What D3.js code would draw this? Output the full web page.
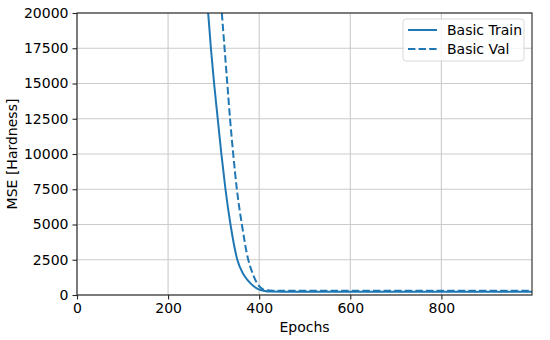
<!DOCTYPE html>
<html>
<head>
<meta charset="utf-8">
<script src="https://cdn.jsdelivr.net/npm/d3@7"></script>
<style>
  body { margin: 0; background: #fff; }
  svg { font-family: "DejaVu Sans", sans-serif; }
  .tick text { font-size: 14px; fill: #000; }
</style>
</head>
<body>
<svg class="chart"></svg>
<script>
// values (earlier epochs are off the top of the chart)
var trainEpochs = [278, 288, 294, 301, 309, 317, 326, 337, 352, 364, 376, 388, 398, 410, 424, 500, 600, 700, 800, 900, 999];
var trainMSE    = [24500, 20000, 17500, 15000, 12500, 10000, 7500, 5000, 2500, 1550, 1000, 620, 420, 300, 240, 230, 230, 230, 230, 230, 230];
var valEpochs   = [308, 318, 324, 330, 336, 343, 351, 362, 376, 386, 395, 405, 415, 430, 500, 600, 700, 800, 900, 999];
var valMSE      = [24500, 20000, 17500, 15000, 12500, 10000, 7500, 5000, 2500, 1500, 850, 480, 340, 300, 300, 300, 300, 300, 300, 300];
var xTicks = [0, 200, 400, 600, 800];
var yTicks = [0, 2500, 5000, 7500, 10000, 12500, 15000, 17500, 20000];
var seriesNames = ["Basic Train", "Basic Val"];

var width = 550, height = 340;
var margin = {top: 13, right: 18, bottom: 45, left: 77};

var svg = d3.select(".chart").attr("width", width).attr("height", height);

var x = d3.scaleLinear().domain([0, 999]).range([margin.left, width - margin.right]);
var y = d3.scaleLinear().domain([0, 20000]).range([height - margin.bottom, margin.top]);

svg.append("clipPath").attr("id", "clip")
  .append("rect")
  .attr("x", margin.left).attr("y", margin.top)
  .attr("width", x.range()[1] - margin.left)
  .attr("height", y.range()[0] - margin.top);

// grid
svg.append("g").selectAll("line").data(xTicks).enter().append("line")
  .attr("x1", function(d){ return x(d); }).attr("x2", function(d){ return x(d); })
  .attr("y1", y.range()[0]).attr("y2", y.range()[1])
  .attr("stroke", "#cbcbcb").attr("stroke-width", 1.1);
svg.append("g").selectAll("line").data(yTicks).enter().append("line")
  .attr("y1", function(d){ return y(d); }).attr("y2", function(d){ return y(d); })
  .attr("x1", x.range()[0]).attr("x2", x.range()[1])
  .attr("stroke", "#cbcbcb").attr("stroke-width", 1.1);

var line = d3.line()
  .x(function(d){ return x(d[0]); })
  .y(function(d){ return y(d[1]); })
  .curve(d3.curveMonotoneX);

var plot = svg.append("g").attr("clip-path", "url(#clip)");
plot.append("path")
  .datum(d3.zip(trainEpochs, trainMSE))
  .attr("d", line).attr("fill", "none")
  .attr("stroke", "#1f77b4").attr("stroke-width", 2);
plot.append("path")
  .datum(d3.zip(valEpochs, valMSE))
  .attr("d", line).attr("fill", "none")
  .attr("stroke", "#1f77b4").attr("stroke-width", 2)
  .attr("stroke-dasharray", "7.4,3.2");

// axes
var xAxis = svg.append("g")
  .attr("transform", "translate(0," + y.range()[0] + ")")
  .call(d3.axisBottom(x).tickValues(xTicks).tickFormat(d3.format("d")).tickSize(4.5).tickPadding(4));
var yAxis = svg.append("g")
  .attr("transform", "translate(" + margin.left + ",0)")
  .call(d3.axisLeft(y).tickValues(yTicks).tickFormat(d3.format("d")).tickSize(4.5).tickPadding(4));
[xAxis, yAxis].forEach(function(a){
  a.select(".domain").remove();
  a.selectAll(".tick line").attr("stroke", "#262626").attr("stroke-width", 1.1);
  a.attr("font-family", null).attr("font-size", null);
});

// frame
svg.append("rect")
  .attr("x", x.range()[0]).attr("y", y.range()[1])
  .attr("width", x.range()[1] - x.range()[0])
  .attr("height", y.range()[0] - y.range()[1])
  .attr("fill", "none").attr("stroke", "#262626").attr("stroke-width", 1.1);

// labels
svg.append("text")
  .attr("x", (x.range()[0] + x.range()[1]) / 2).attr("y", 332)
  .attr("text-anchor", "middle").attr("font-size", 14)
  .text("Epochs");
svg.append("text")
  .attr("transform", "translate(17," + (y.range()[0] + y.range()[1]) / 2 + ") rotate(-90)")
  .attr("text-anchor", "middle").attr("font-size", 14)
  .text("MSE [Hardness]");

// legend
var legend = svg.append("g").attr("transform", "translate(403,19)");
legend.append("rect")
  .attr("width", 121).attr("height", 42).attr("rx", 3)
  .attr("fill", "#fff").attr("fill-opacity", 0.8)
  .attr("stroke", "#d9d9d9").attr("stroke-width", 1);
seriesNames.forEach(function(name, i){
  var row = legend.append("g").attr("transform", "translate(0," + (11 + i * 19) + ")");
  row.append("line")
    .attr("x1", 5).attr("x2", 34)
    .attr("stroke", "#1f77b4").attr("stroke-width", 2)
    .attr("stroke-dasharray", i === 1 ? "7.4,3.2" : null);
  row.append("text")
    .attr("x", 44).attr("dy", "0.35em").attr("font-size", 14)
    .text(name);
});
</script>
</body>
</html>
